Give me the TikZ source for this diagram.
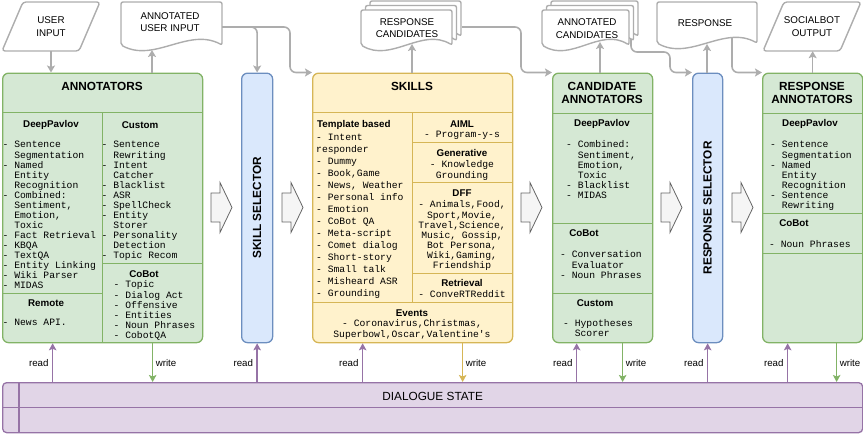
\documentclass[tikz,border=0pt]{standalone}
\usepackage{fontspec}
\setmainfont{Liberation Sans}
\setmonofont{Liberation Mono}
\usetikzlibrary{arrows.meta}

\definecolor{grnfill}{HTML}{D5E8D4}
\definecolor{grnline}{HTML}{82B366}
\definecolor{blufill}{HTML}{DAE8FC}
\definecolor{bluline}{HTML}{6C8EBF}
\definecolor{ylwfill}{HTML}{FFF2CC}
\definecolor{ylwline}{HTML}{D6B656}
\definecolor{prpfill}{HTML}{E1D5E7}
\definecolor{prpline}{HTML}{9673A6}
\definecolor{conn}{HTML}{ADADAD}
\definecolor{arrfill}{HTML}{F5F5F5}
\definecolor{arrline}{HTML}{666666}

\newcommand{\twosp}{\phantom{xx}}

% paper sheet with a wavy lower edge: top-left x, top-left y, width, side height
\newcommand{\docshape}[4]{%
  \draw[docline] (#1,#2) -- (#1+#3,#2) -- (#1+#3,#2+#4)
    .. controls (#1+#3*0.67,#2+#4-18) and (#1+#3*0.33,#2+#4+18) .. (#1,#2+#4) -- cycle;
}
\newcommand{\docstack}[4]{%
  \docshape{#1+9}{#2-9}{#3}{#4}
  \docshape{#1+4.5}{#2-4.5}{#3}{#4}
  \docshape{#1}{#2}{#3}{#4}
}
% fat arrow between the stages: left x, centre y
\newcommand{\blockarrow}[2]{%
  \draw[bigarrow] (#1,#2-14.5) -- ++(9,0) -- ++(0,-10.5) -- ++(12,25) -- ++(-12,25) -- ++(0,-10.5) -- ++(-9,0) -- cycle;
}

\tikzset{
  greenbox/.style={rectangle, draw=grnline, fill=grnfill, line width=1.3pt, rounded corners=6pt, anchor=north west},
  bluebox/.style={rectangle, draw=bluline, fill=blufill, line width=1.3pt, rounded corners=6pt, anchor=north west},
  yellowbox/.style={rectangle, draw=ylwline, fill=ylwfill, line width=1.3pt, rounded corners=6pt, anchor=north west},
  statebox/.style={rectangle, draw=prpline, fill=prpfill, line width=1.3pt, rounded corners=4pt, anchor=north west},
  grnsep/.style={draw=grnline, line width=1pt},
  ylwsep/.style={draw=ylwline, line width=1pt},
  prpsep/.style={draw=prpline, line width=1.3pt},
  title/.style={font=\fontsize{11.8}{13}\selectfont\bfseries, align=center},
  head/.style={font=\fontsize{9.8}{12}\selectfont\bfseries},
  items/.style={font=\fontsize{9.7}{10}\selectfont\ttfamily, align=left, anchor=north west},
  citems/.style={font=\fontsize{9.7}{10}\selectfont\ttfamily, align=center, anchor=north},
  doctext/.style={font=\fontsize{9.8}{12.5}\selectfont, align=center},
  docline/.style={draw=conn, fill=white, line width=1.4pt, rounded corners=2pt},
  bigarrow/.style={draw=arrline, fill=arrfill, line width=0.8pt},
  flow/.style={draw=conn, line width=1.6pt, rounded corners=6pt, -{Stealth[length=7pt, width=8pt, inset=1.5pt]}},
  rd/.style={draw=prpline, line width=1.4pt, -{Stealth[length=7pt, width=7.5pt, inset=1.5pt]}},
  wr/.style={draw=grnline, line width=1.4pt, -{Stealth[length=7pt, width=7.5pt, inset=1.5pt]}},
  wry/.style={draw=ylwline, line width=1.4pt, -{Stealth[length=7pt, width=7.5pt, inset=1.5pt]}}
}

\begin{document}
\begin{tikzpicture}[x=1pt, y=-1pt, every node/.style={inner sep=0pt, font=\fontsize{9.7}{12}\selectfont}]
    \useasboundingbox (0,0) rectangle (863,434);

    % Annotators
    \node[greenbox, minimum width=200pt, minimum height=269.5pt] (ann) at (2,72.5) {};
    \node[title] at (102,86) {ANNOTATORS};
    \draw[grnsep] (2,112) -- (202,112);
    \draw[grnsep] (102,112) -- (102,342);
    \draw[grnsep] (2,293) -- (102,293);
    \draw[grnsep] (102,263) -- (202,263);
    \node[head] at (51,125) {DeepPavlov};
    \node[items] at (2.5,140) {\strut- Sentence\\\twosp Segmentation\\- Named\\\twosp Entity\\\twosp Recognition\\- Combined:\\\twosp Sentiment,\\\twosp Emotion,\\\twosp Toxic\\- Fact Retrieval\\- KBQA\\- TextQA\\- Entity Linking\\- Wiki Parser\\- MIDAS};
    \node[head] at (46,303) {Remote};
    \node[items] at (2.5,318) {\strut- News API.};
    \node[head] at (140,125) {Custom};
    \node[items] at (101.5,140) {\strut- Sentence\\\twosp Rewriting\\- Intent\\\twosp Catcher\\- Blacklist\\- ASR\\- SpellCheck\\- Entity\\\twosp Storer\\- Personality\\\twosp Detection\\- Topic Recom};
    \node[head] at (144,274) {CoBot};
    \node[items] at (113.5,280) {\strut- Topic\\- Dialog Act\\- Offensive\\- Entities\\- Noun Phrases\\- CobotQA};

    % Skill selector
    \node[bluebox, minimum width=31pt, minimum height=269.5pt] (ssel) at (241,72.5) {};
    \node[title, rotate=90] at (ssel) {SKILL SELECTOR};

    % Skills
    \node[yellowbox, minimum width=200pt, minimum height=269.5pt] (skills) at (312,72.5) {};
    \node[title] at (412,86) {SKILLS};
    \draw[ylwsep] (312,112) -- (512,112);
    \draw[ylwsep] (412,112) -- (412,302);
    \draw[ylwsep] (312,302) -- (512,302);
    \draw[ylwsep] (412,142) -- (512,142);
    \draw[ylwsep] (412,182) -- (512,182);
    \draw[ylwsep] (412,273) -- (512,273);
    \node[head, anchor=west] at (317,125) {Template based};
    \node[items, font=\fontsize{9.7}{12}\selectfont\ttfamily] at (316,131.6) {\strut- Intent\\responder\\- Dummy\\- Book,Game\\- News, Weather\\- Personal info\\- Emotion\\- CoBot QA\\- Meta-script\\- Comet dialog\\- Short-story\\- Small talk\\- Misheard ASR\\- Grounding};
    \node[head] at (462,124) {AIML};
    \node[citems] at (462,130) {\strut- Program-y-s};
    \node[head] at (462,153) {Generative};
    \node[citems] at (462,160) {\strut- Knowledge\\Grounding};
    \node[head] at (462,193) {DFF};
    \node[citems] at (462,200) {\strut- Animals,Food,\\Sport,Movie,\\Travel,Science,\\Music, Gossip,\\Bot Persona,\\Wiki,Gaming,\\Friendship};
    \node[head] at (462,283) {Retrieval};
    \node[citems] at (462,290) {\strut- ConveRTReddit};
    \node[head] at (412,313) {Events};
    \node[citems] at (412,319) {\strut- Coronavirus,Christmas,\\Superbowl,Oscar,Valentine's};

    % Candidate annotators
    \node[greenbox, minimum width=100pt, minimum height=269.5pt] (cann) at (552,72.5) {};
    \node[title] at (602,92.5) {CANDIDATE\\ANNOTATORS};
    \draw[grnsep] (552,113) -- (652,113);
    \draw[grnsep] (552,223) -- (652,223);
    \draw[grnsep] (552,293) -- (652,293);
    \node[head] at (602,124) {DeepPavlov};
    \node[items] at (566,140) {\strut- Combined:\\\twosp Sentiment,\\\twosp Emotion,\\\twosp Toxic\\- Blacklist\\- MIDAS};
    \node[head] at (584,233) {CoBot};
    \node[items] at (560,250) {\strut- Conversation\\\twosp Evaluator\\- Noun Phrases};
    \node[head] at (595,303) {Custom};
    \node[items] at (563,319) {\strut- Hypotheses\\\twosp Scorer};

    % Response selector
    \node[bluebox, minimum width=30pt, minimum height=269.5pt] (rsel) at (692,72.5) {};
    \node[title, rotate=90] at (rsel) {RESPONSE SELECTOR};

    % Response annotators
    \node[greenbox, minimum width=100pt, minimum height=269.5pt] (rann) at (762,72.5) {};
    \node[title] at (812,92.5) {RESPONSE\\ANNOTATORS};
    \draw[grnsep] (762,113) -- (862,113);
    \draw[grnsep] (762,213) -- (862,213);
    \draw[grnsep] (762,253) -- (862,253);
    \node[head] at (810,124) {DeepPavlov};
    \node[items] at (770,140) {\strut- Sentence\\\twosp Segmentation\\- Named\\\twosp Entity\\\twosp Recognition\\- Sentence\\\twosp Rewriting};
    \node[head] at (794,223) {CoBot};
    \node[items] at (769,240) {\strut- Noun Phrases};

    % stage arrows
    \blockarrow{211}{207.5}
    \blockarrow{282}{207.5}
    \blockarrow{521}{207.5}
    \blockarrow{661}{207.5}
    \blockarrow{732}{207.5}

    % data between the stages
    \coordinate (aui-in) at (152,50);
    \coordinate (aui-out) at (222,27);
    \coordinate (rc-in) at (412,44);
    \coordinate (rc-out) at (462,27);
    \coordinate (ac-in) at (600,42);
    \coordinate (ac-out) at (631,38);
    \coordinate (resp-in) at (707,44);
    \coordinate (resp-out) at (732,36);

    \draw[flow] (ac-out) -- ++(0,14) -| ([xshift=-22pt]rsel.north west) -- (rsel.north west);
    \draw[flow] (resp-out) |- (rann.north west);

    \draw[docline, rounded corners=3pt] (23,2) -- (100,2) -- (79,51) -- (2,51) -- cycle;
    \node[doctext, minimum height=49pt] (uin) at (51,26.5) {USER\\INPUT};
    \docshape{121}{2}{101}{43}
    \node[doctext] (aui) at (170,22) {ANNOTATED\\USER INPUT};
    \docstack{361}{10}{91}{35}
    \node[doctext] (rc) at (407,28) {RESPONSE\\CANDIDATES};
    \docstack{542}{10}{87}{35}
    \node[doctext] (ac) at (587,28.5) {ANNOTATED\\CANDIDATES};
    \docshape{657}{2}{100}{41}
    \node[doctext] (resp) at (705,23) {RESPONSE};
    \draw[docline, rounded corners=3pt] (784,2) -- (861,2) -- (840,51) -- (763,51) -- cycle;
    \node[doctext, minimum height=49pt] (sout) at (812,26.5) {SOCIALBOT\\OUTPUT};

    \draw[flow] (uin.south) -- (uin.south |- ann.north);
    \draw[flow] (ann.north -| aui-in) -- (aui-in);
    \draw[flow] (aui-out) -| (ssel.north);
    \draw[flow] (aui-out) -| ([xshift=-22pt]skills.north west) -- (skills.north west);
    \draw[flow] (skills.north -| rc-in) -- (rc-in);
    \draw[flow] (rc-out) -| ([xshift=-31pt]cann.north west) -- (cann.north west);
    \draw[flow] (cann.north -| ac-in) -- (ac-in);
    \draw[flow] (rsel.north -| resp-in) -- (resp-in);
    \draw[flow] (rann.north) -- (rann.north |- sout.south);

    % Dialogue state
    \node[statebox, minimum width=860pt, minimum height=50pt] (ds) at (2,382) {};
    \draw[prpsep] (ds.west) -- (ds.east);
    \draw[prpsep] ([xshift=17pt]ds.north west) -- ([xshift=17pt]ds.south west);
    \node[font=\fontsize{11.8}{13}\selectfont] at ([yshift=-14pt]ds.north) {DIALOGUE STATE};

    \coordinate (ann-r) at ([xshift=-50pt]ann.south);
    \coordinate (ann-w) at ([xshift=50pt]ann.south);
    \coordinate (sk-r) at ([xshift=-50pt]skills.south);
    \coordinate (sk-w) at ([xshift=50pt]skills.south);
    \coordinate (cann-r) at ([xshift=-26pt]cann.south);
    \coordinate (cann-w) at ([xshift=20pt]cann.south);
    \coordinate (rann-r) at ([xshift=-25pt]rann.south);
    \coordinate (rann-w) at ([xshift=24pt]rann.south);

    \draw[rd] (ann-r |- ds.north) -- (ann-r) node[midway, left=3.5pt] {read};
    \draw[wr] (ann-w) -- (ann-w |- ds.north) node[midway, right=2.5pt] {write};
    \draw[rd] (ssel.south |- ds.north) -- (ssel.south) node[midway, left=3.5pt] {read};
    \draw[rd] (sk-r |- ds.north) -- (sk-r) node[midway, left=3.5pt] {read};
    \draw[wry] (sk-w) -- (sk-w |- ds.north) node[midway, right=2.5pt] {write};
    \draw[rd] (cann-r |- ds.north) -- (cann-r) node[midway, left=3.5pt] {read};
    \draw[wr] (cann-w) -- (cann-w |- ds.north) node[midway, right=2.5pt] {write};
    \draw[rd] (rsel.south |- ds.north) -- (rsel.south) node[midway, left=3.5pt] {read};
    \draw[rd] (rann-r |- ds.north) -- (rann-r) node[midway, left=3.5pt] {read};
    \draw[wr] (rann-w) -- (rann-w |- ds.north) node[midway, right=2.5pt] {write};
\end{tikzpicture}
\end{document}
